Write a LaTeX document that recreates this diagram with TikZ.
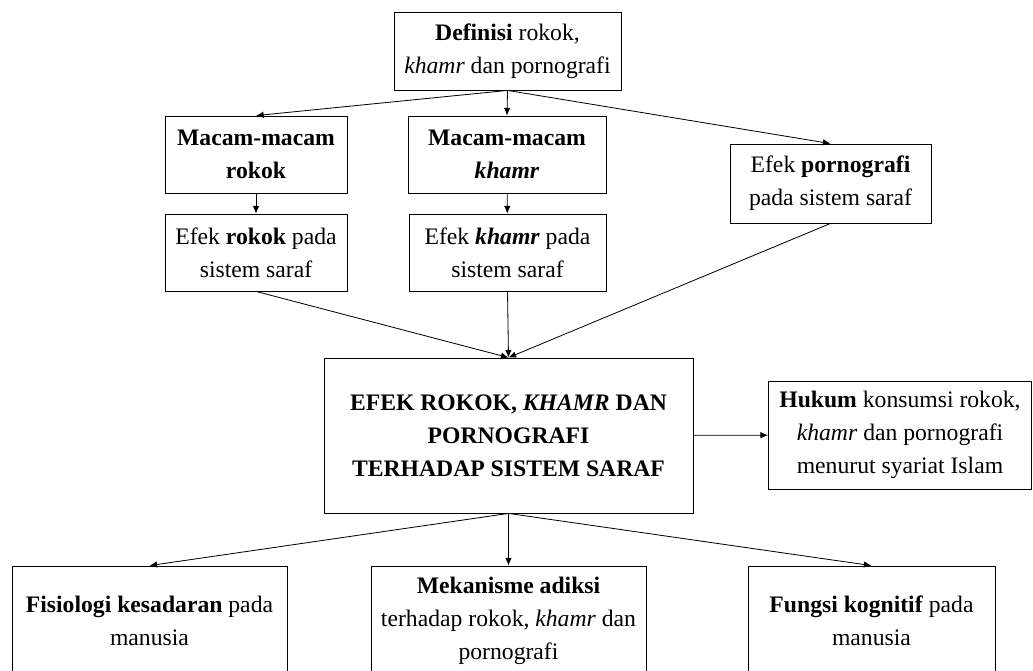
\documentclass[tikz,border=0pt]{standalone}
\usepackage{fontspec}
\setmainfont{Liberation Serif}
\usetikzlibrary{positioning, arrows.meta}

\begin{document}
\begin{tikzpicture}[
  x=0.03cm, y=-0.03cm,
  topicbox/.style={rectangle, draw=black, line width=0.7pt, align=center, inner sep=0pt, font=\fontsize{20.2}{28.3}\selectfont},
  flow/.style={-{Latex[length=6.5pt, width=5.5pt]}, line width=0.7pt}
]
\clip (0,0) rectangle (1033,670);

% top row
\node [topicbox, minimum width=227*0.03cm, minimum height=78*0.03cm] (def) at (507.5,51) {\textbf{Definisi} rokok,\\\textit{khamr} dan pornografi};

\node [topicbox, minimum width=182*0.03cm, minimum height=77*0.03cm] (macR) at (256,154.5) {\textbf{Macam-macam}\\\textbf{rokok}};
\node [topicbox, minimum width=198*0.03cm, minimum height=77*0.03cm] (macK) at (507,154.5) {\textbf{Macam-macam}\\\textbf{\textit{khamr}}};
\node [topicbox, minimum width=201*0.03cm, minimum height=79*0.03cm] (efP) at (830.5,183.5) {Efek \textbf{pornografi}\\pada sistem saraf};

\node [topicbox, minimum width=182*0.03cm, minimum height=77*0.03cm] (efR) at (256,252.5) {Efek \textbf{rokok} pada\\sistem saraf};
\node [topicbox, minimum width=197*0.03cm, minimum height=77*0.03cm] (efK) at (507.5,252.5) {Efek \textbf{\textit{khamr}} pada\\sistem saraf};

% centre
\node [topicbox, minimum width=369*0.03cm, minimum height=155*0.03cm, font=\bfseries\fontsize{20.2}{28.3}\selectfont] (main) at (508.5,435.5) {EFEK ROKOK, \textit{KHAMR} DAN\\PORNOGRAFI\\TERHADAP SISTEM SARAF};
\node [topicbox, minimum width=263*0.03cm, minimum height=108*0.03cm] (hukum) at (900,435) {\textbf{Hukum} konsumsi rokok,\\\textit{khamr} dan pornografi\\menurut syariat Islam};

% bottom row
\node [topicbox, minimum width=275*0.03cm, minimum height=110*0.03cm] (fis) at (149.5,621) {\textbf{Fisiologi kesadaran} pada\\manusia};
\node [topicbox, minimum width=275*0.03cm, minimum height=110*0.03cm] (mek) at (508.5,621) {\textbf{Mekanisme adiksi}\\terhadap rokok, \textit{khamr} dan\\pornografi};
\node [topicbox, minimum width=247*0.03cm, minimum height=110*0.03cm] (fun) at (871.5,621) {\textbf{Fungsi kognitif} pada\\manusia};

\draw [flow] (def.south) -- (macR.north);
\draw [flow] (def.south) -- (macK.north);
\draw [flow] (def.south) -- (efP.north);
\draw [flow] (macR) -- (efR);
\draw [flow] (macK) -- (efK);
\draw [flow] (efR.south) -- (main.north);
\draw [flow] (efK.south) -- (main.north);
\draw [flow] (efP.south) -- (main.north);
\draw [flow] (main) -- (hukum);
\draw [flow] (main.south) -- (fis.north);
\draw [flow] (main.south) -- (mek.north);
\draw [flow] (main.south) -- (fun.north);
\end{tikzpicture}
\end{document}
